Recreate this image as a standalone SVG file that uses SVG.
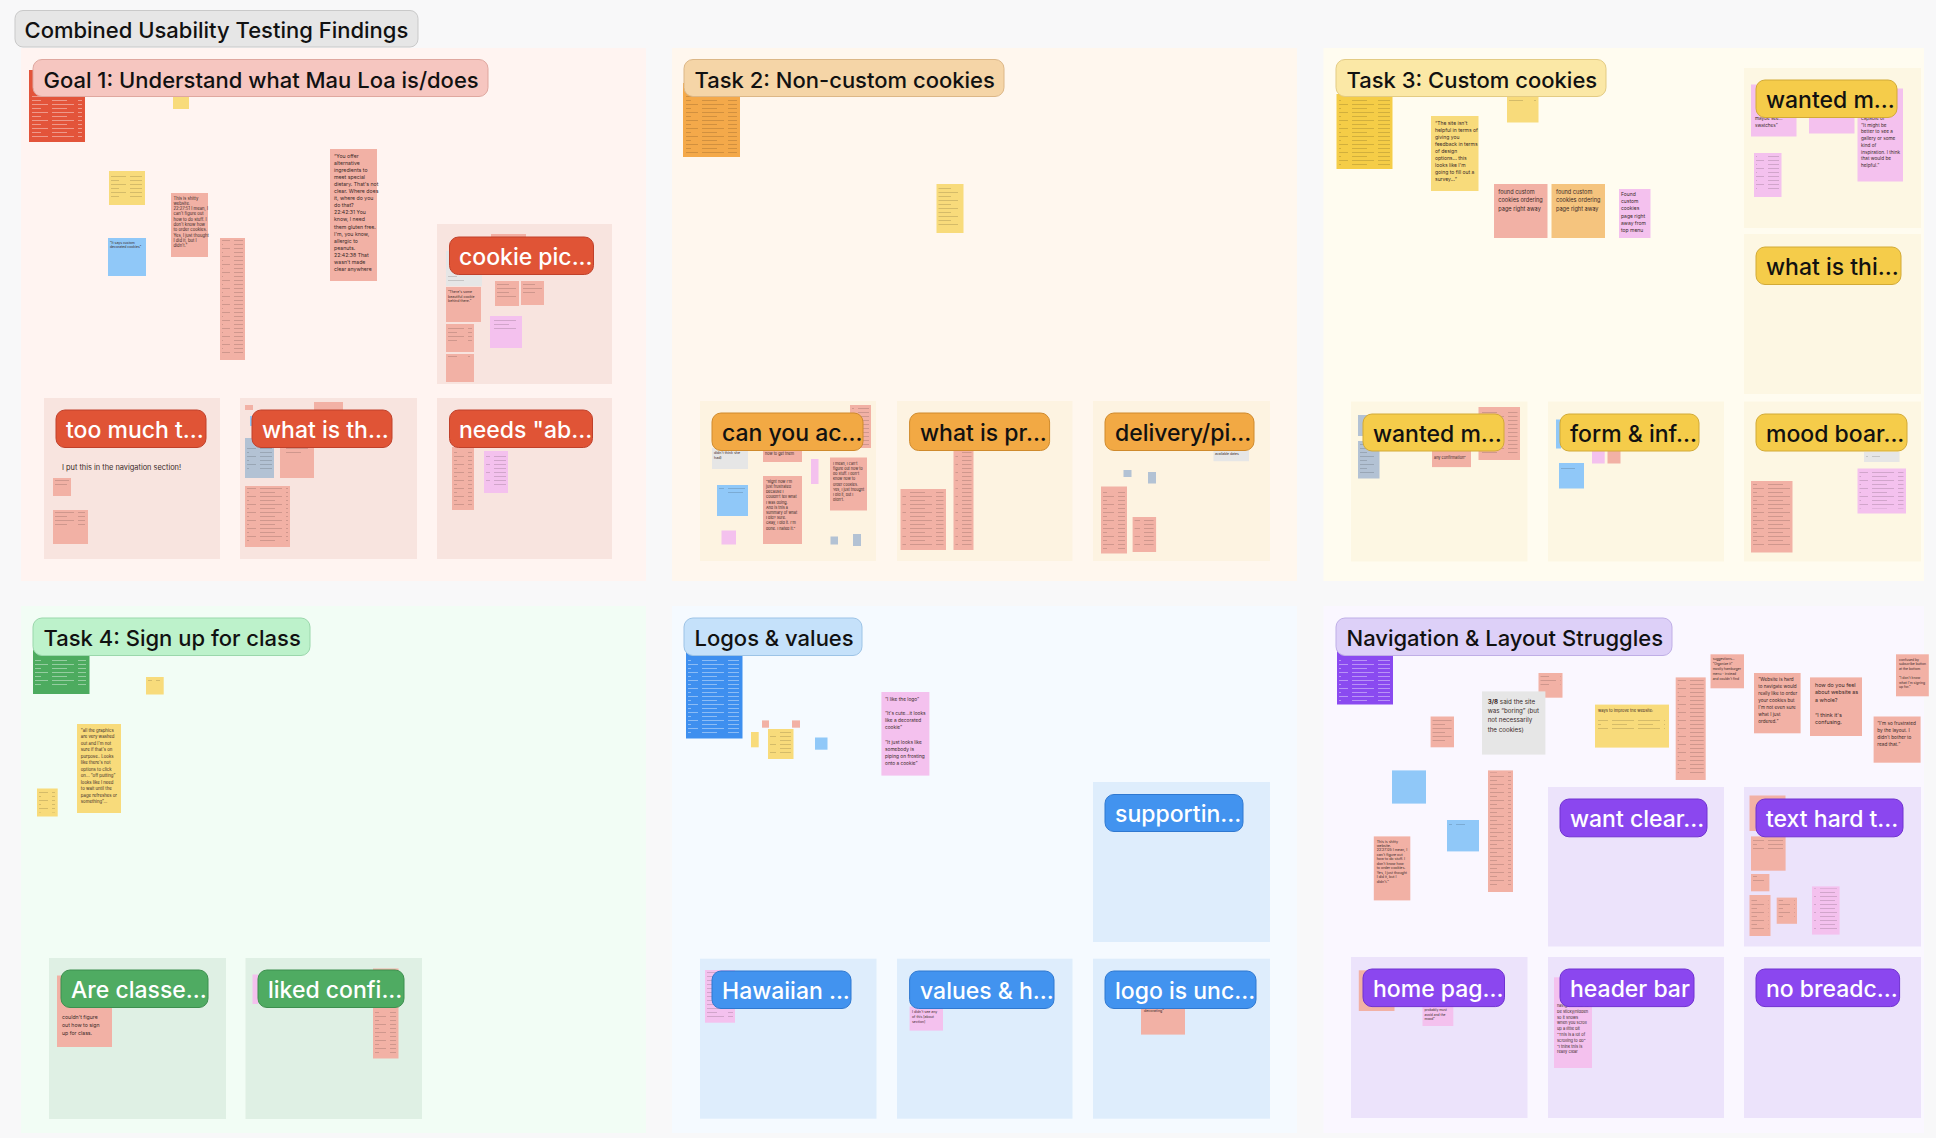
<svg xmlns="http://www.w3.org/2000/svg" width="1936" height="1138" viewBox="0 0 1936 1138">
<defs>
<pattern id="tl" width="26" height="8" patternUnits="userSpaceOnUse"><rect width="22" height="0.9" fill="#000" opacity="0.16"/><rect y="4" width="15" height="0.9" fill="#000" opacity="0.16"/></pattern>
<pattern id="tw" width="26" height="8" patternUnits="userSpaceOnUse"><rect width="22" height="0.9" fill="#fff" opacity="0.45"/><rect y="4" width="15" height="0.9" fill="#fff" opacity="0.45"/></pattern>
<style>
text{font-family:Inter,"Liberation Sans",sans-serif}
.hdr{font-size:22px;font-weight:500;fill:#111}
.pt{font-size:23px;font-weight:500}
.w{fill:#fff}.k{fill:#111}
.nt{fill:#3a2a28}
.s-goal{fill:#fff4f1}.s-t2{fill:#fff7ee}.s-t3{fill:#fffcf0}.s-t4{fill:#f2fdf5}.s-logo{fill:#f5faff}.s-nav{fill:#faf7ff}
.c-goal{fill:#f8e4df}.c-t2{fill:#fdf3e1}.c-t3{fill:#fdf7e3}.c-t4{fill:#dff0e4}.c-logo{fill:#deedfc}.c-nav{fill:#ece3fb}
.p-red{fill:#e05436;stroke:#c0402a}.p-or{fill:#f2a944;stroke:#cf8a2c}.p-ye{fill:#f5cc4a;stroke:#d2aa36}.p-gr{fill:#4fab62;stroke:#3d8f4e}.p-bl{fill:#4293ef;stroke:#2f78d0}.p-pu{fill:#8b47ef;stroke:#7032d0}
.n-sa{fill:#f2b1a5}.n-pk{fill:#f4c1ee}.n-ye{fill:#f8db7b}.n-bl{fill:#90c8f8}.n-gy{fill:#e6e6e6}.n-gb{fill:#b3c2d4}.n-pe{fill:#f5c47e}
.b-red{fill:#e3543a}.b-or{fill:#f4a94a}.b-ye{fill:#f5cd47}.b-gr{fill:#4dab5f}.b-bl{fill:#3e8fef}.b-pu{fill:#8a4af0}
.tl{fill:url(#tl)}.tw{fill:url(#tw)}
</style>
</defs>
<rect x="0" y="0" width="1936" height="1138" fill="#f8f8f9"/>

<g id="title">
<rect x="15" y="10.5" width="403" height="36.5" rx="8" fill="#e6e6e6" stroke="#c9c9c9"/>
<text class="hdr" x="24.5" y="37.5">Combined Usability Testing Findings</text>
</g>

<!-- GOAL 1 -->
<g id="sec-goal1">
<rect class="s-goal" x="21" y="48" width="625" height="533"/>
<g id="g1-notes">
<rect class="b-red" x="29" y="70" width="56" height="72"/><rect class="tw" x="32" y="96" width="50" height="43"/>
<rect class="n-ye" x="173" y="90" width="16" height="19"/>
</g>
<g id="g1-header">
<rect x="33" y="59.5" width="455" height="37" rx="9" fill="#f6c6c0" stroke="#dfa79f"/>
<text class="hdr" x="43.5" y="87.5">Goal 1: Understand what Mau Loa is/does</text>
</g>
<g id="g1-loose">
<rect class="n-ye" x="109" y="171" width="36" height="34"/><rect class="tl" x="111" y="173" width="31" height="27"/>
<rect class="n-bl" x="108" y="238" width="38" height="38"/>
<text class="nt" font-size="3.4" x="110" y="244">"It says custom</text><text class="nt" font-size="3.4" x="110" y="248">decorated cookies"</text>
<rect class="n-sa" x="171" y="193" width="37" height="64"/>
<text class="nt" font-size="4.2"><tspan x="173.5" y="199.5">This is shitty</tspan><tspan x="173.5" dy="5.3">website.</tspan><tspan x="173.5" dy="5.3">22:27:51 I mean, I</tspan><tspan x="173.5" dy="5.3">can't figure out</tspan><tspan x="173.5" dy="5.3">how to do stuff. I</tspan><tspan x="173.5" dy="5.3">don't know how</tspan><tspan x="173.5" dy="5.3">to order cookies.</tspan><tspan x="173.5" dy="5.3">Yes, I just thought</tspan><tspan x="173.5" dy="5.3">I did it, but I</tspan><tspan x="173.5" dy="5.3">didn't."</tspan></text>
<rect class="n-sa" x="220" y="238" width="25" height="122"/><rect class="tl" x="222" y="240" width="21" height="115"/>
<rect class="n-sa" x="330" y="149" width="47" height="132"/>
<text class="nt" font-size="5.2"><tspan x="334" y="157.5">“You offer</tspan><tspan x="334" dy="7.1">alternative</tspan><tspan x="334" dy="7.1">ingredients to</tspan><tspan x="334" dy="7.1">meet special</tspan><tspan x="334" dy="7.1">dietary. That's not</tspan><tspan x="334" dy="7.1">clear. Where does</tspan><tspan x="334" dy="7.1">it, where do you</tspan><tspan x="334" dy="7.1">do that?</tspan><tspan x="334" dy="7.1">22:42:31 You</tspan><tspan x="334" dy="7.1">know, I need</tspan><tspan x="334" dy="7.1">them gluten free.</tspan><tspan x="334" dy="7.1">I'm, you know,</tspan><tspan x="334" dy="7.1">allergic to</tspan><tspan x="334" dy="7.1">peanuts.</tspan><tspan x="334" dy="7.1">22:42:38 That</tspan><tspan x="334" dy="7.1">wasn't made</tspan><tspan x="334" dy="7.1">clear anywhere</tspan></text>
</g>
<g id="g1-cookie-pic">
<rect class="c-goal" x="437" y="224" width="175" height="160"/>
<rect class="n-sa" x="491" y="234" width="35" height="8"/>
<rect class="n-gy" x="446" y="251" width="36" height="35"/><rect class="tl" x="448" y="276" width="20" height="6"/>
<rect class="n-sa" x="446" y="287" width="35" height="35"/>
<text class="nt" font-size="3.5"><tspan x="448" y="293">“There's some</tspan><tspan x="448" dy="4.5">beautiful cookie</tspan><tspan x="448" dy="4.5">behind there.”</tspan></text>
<rect class="n-sa" x="495" y="281" width="24" height="25"/><rect class="tl" x="497" y="283" width="20" height="14"/>
<rect class="n-sa" x="521" y="281" width="23" height="24"/><rect class="tl" x="523" y="283" width="19" height="10"/>
<rect class="n-pk" x="490" y="316" width="32" height="32"/><rect class="tl" x="492" y="318" width="27" height="12"/>
<rect class="n-sa" x="446" y="324" width="28" height="28"/><rect class="tl" x="448" y="326" width="24" height="16"/>
<rect class="n-sa" x="446" y="354" width="28" height="28"/><rect class="tl" x="448" y="356" width="22" height="3"/>
<rect class="p-red" x="449.5" y="237" width="144" height="37.5" rx="9"/>
<text class="pt w" x="459" y="265">cookie pic...</text>
</g>
<g id="g1-too-much">
<rect class="c-goal" x="44" y="398" width="176" height="161"/>
<rect class="p-red" x="56" y="410" width="150" height="37.5" rx="9"/>
<text class="pt w" x="66" y="438">too much t...</text>
<text class="nt" font-size="7.4" x="62" y="470">I put this in the navigation section!</text>
<rect class="n-sa" x="53" y="478" width="18" height="18"/><rect class="tl" x="55" y="480" width="14" height="8"/>
<rect class="n-sa" x="53" y="510" width="35" height="34"/><rect class="tl" x="55" y="512" width="30" height="14"/>
</g>
<g id="g1-what-is">
<rect class="c-goal" x="240" y="398" width="177" height="161"/>
<rect class="n-sa" x="245" y="405" width="8" height="5"/>
<rect class="n-sa" x="314" y="402" width="29" height="10"/>
<rect class="n-bl" x="250" y="416" width="6" height="10"/>
<rect class="n-gb" x="245" y="438" width="29" height="40"/><rect class="tl" x="247" y="448" width="25" height="24"/>
<rect class="n-sa" x="280" y="438" width="34" height="40"/><rect class="tl" x="282" y="448" width="30" height="8"/>
<rect class="n-sa" x="245" y="486" width="45" height="61"/><rect class="tl" x="247" y="488" width="41" height="54"/>
<rect class="p-red" x="252" y="410" width="140" height="37.5" rx="9"/>
<text class="pt w" x="262" y="438">what is th...</text>
</g>
<g id="g1-needs-about">
<rect class="c-goal" x="437" y="398" width="175" height="161"/>
<rect class="n-sa" x="452" y="447" width="22" height="63"/><rect class="tl" x="454" y="449" width="18" height="56"/>
<rect class="n-pk" x="484" y="451" width="24" height="42"/><rect class="tl" x="486" y="453" width="20" height="34"/>
<rect class="p-red" x="449.5" y="410" width="143" height="37.5" rx="9"/>
<text class="pt w" x="459" y="438">needs "ab...</text>
</g>
</g>

<!-- TASK 2 -->
<g id="sec-task2">
<rect class="s-t2" x="672" y="48" width="625" height="533"/>
<rect class="b-or" x="683" y="83" width="57" height="74"/><rect class="tl" x="686" y="96" width="51" height="58"/>
<g id="t2-header">
<rect x="684" y="59.5" width="320" height="37" rx="9" fill="#f5d5a7" stroke="#dcb787"/>
<text class="hdr" x="694.5" y="87.5">Task 2: Non-custom cookies</text>
</g>
<rect class="n-ye" x="936.5" y="184" width="27" height="49"/><rect class="tl" x="938.5" y="186" width="23" height="42"/>
<g id="t2-can-you">
<rect class="c-t2" x="700" y="401" width="176" height="160"/>
<rect class="n-sa" x="850" y="405" width="21" height="43"/><rect class="tl" x="852" y="407" width="17" height="38"/>
<rect class="n-gy" x="712" y="448" width="36" height="21"/>
<text class="nt" font-size="3.6"><tspan x="714" y="454">didn't think she</tspan><tspan x="714" dy="4.5">had)</tspan></text>
<rect class="n-sa" x="763" y="448" width="39" height="14"/>
<text class="nt" font-size="3.8" x="765" y="455">how to get them</text>
<rect class="n-pk" x="811" y="459" width="7.5" height="25"/>
<rect class="n-sa" x="830" y="457.5" width="37" height="53"/>
<text class="nt" font-size="3.7"><tspan x="833" y="464.7">I mean, I can't</tspan><tspan x="833" dy="5.2">figure out how to</tspan><tspan x="833" dy="5.2">do stuff. I don't</tspan><tspan x="833" dy="5.2">know how to</tspan><tspan x="833" dy="5.2">order cookies.</tspan><tspan x="833" dy="5.2">Yes, I just thought</tspan><tspan x="833" dy="5.2">I did it, but I</tspan><tspan x="833" dy="5.2">didn't.</tspan></text>
<rect class="n-bl" x="717" y="485" width="31" height="31"/><rect class="tl" x="719" y="488" width="26" height="8"/>
<rect class="n-sa" x="763" y="476" width="39" height="68"/>
<text class="nt" font-size="3.8"><tspan x="766" y="482.7">“Right now I'm</tspan><tspan x="766" dy="5.2">just frustrated</tspan><tspan x="766" dy="5.2">because I</tspan><tspan x="766" dy="5.2">couldn't tell what</tspan><tspan x="766" dy="5.2">I was doing.</tspan><tspan x="766" dy="5.2">And is this a</tspan><tspan x="766" dy="5.2">summary of what</tspan><tspan x="766" dy="5.2">I did? Sure.</tspan><tspan x="766" dy="5.2">Okay, I did it. I'm</tspan><tspan x="766" dy="5.2">done. I hated it.”</tspan></text>
<rect class="n-pk" x="721.5" y="530.5" width="14.5" height="14"/>
<rect class="n-gb" x="830.5" y="536.5" width="7.5" height="8"/>
<rect class="n-gb" x="853" y="534" width="8" height="12"/>
<rect class="p-or" x="712" y="413" width="151" height="37.5" rx="9"/>
<text class="pt k" x="722" y="441">can you ac...</text>
</g>
<g id="t2-what-is-pr">
<rect class="c-t2" x="897" y="401" width="175.5" height="160"/>
<rect class="n-sa" x="900.5" y="489" width="45.5" height="61"/><rect class="tl" x="902.5" y="491" width="41" height="54"/>
<rect class="n-sa" x="953.5" y="448" width="20" height="102"/><rect class="tl" x="955.5" y="452" width="16" height="94"/>
<rect class="p-or" x="909.6" y="413" width="140" height="37.5" rx="9"/>
<text class="pt k" x="920" y="441">what is pr...</text>
</g>
<g id="t2-delivery">
<rect class="c-t2" x="1093" y="401" width="177" height="160"/>
<rect class="n-gy" x="1213.5" y="450.7" width="35.5" height="10.5"/>
<text class="nt" font-size="3.4" x="1215" y="454.5">available dates</text>
<rect class="n-gb" x="1123.5" y="470" width="8" height="7"/>
<rect class="n-gb" x="1148" y="472" width="8" height="11.5"/>
<rect class="n-sa" x="1101" y="486.5" width="26" height="67"/><rect class="tl" x="1103" y="489" width="22" height="60"/>
<rect class="n-sa" x="1132.6" y="517" width="23.5" height="35"/><rect class="tl" x="1134.6" y="520" width="19" height="26"/>
<rect class="p-or" x="1105" y="413" width="149" height="37.5" rx="9"/>
<text class="pt k" x="1115" y="441">delivery/pi...</text>
</g>
</g>

<!-- TASK 3 -->
<g id="sec-task3">
<rect class="s-t3" x="1323.5" y="48" width="600.5" height="533"/>
<rect class="b-ye" x="1336.5" y="94" width="56" height="75"/><rect class="tl" x="1339" y="97" width="51" height="68"/>
<rect class="n-ye" x="1507" y="93" width="31.5" height="29.5"/><rect class="tl" x="1509" y="97" width="27" height="5"/>
<g id="t3-header">
<rect x="1336" y="59.5" width="270" height="37" rx="9" fill="#fbe8a6" stroke="#e3cb83"/>
<text class="hdr" x="1346.5" y="87.5">Task 3: Custom cookies</text>
</g>
<g id="t3-loose">
<rect class="n-ye" x="1431" y="116" width="47.5" height="75"/>
<text class="nt" font-size="5"><tspan x="1435" y="124.5">“The site isn't</tspan><tspan x="1435" dy="7.1">helpful in terms of</tspan><tspan x="1435" dy="7.1">giving you</tspan><tspan x="1435" dy="7.1">feedback in terms</tspan><tspan x="1435" dy="7.1">of design</tspan><tspan x="1435" dy="7.1">options... this</tspan><tspan x="1435" dy="7.1">looks like I'm</tspan><tspan x="1435" dy="7.1">going to fill out a</tspan><tspan x="1435" dy="7.1">survey...”</tspan></text>
<rect class="n-sa" x="1494" y="184" width="53.5" height="54"/>
<text class="nt" font-size="5.6"><tspan x="1498.3" y="194">found custom</tspan><tspan x="1498.3" dy="8.3">cookies ordering</tspan><tspan x="1498.3" dy="8.3">page right away</tspan></text>
<rect class="n-pe" x="1551.5" y="184" width="53.5" height="54"/>
<text class="nt" font-size="5.6"><tspan x="1556" y="194">found custom</tspan><tspan x="1556" dy="8.3">cookies ordering</tspan><tspan x="1556" dy="8.3">page right away</tspan></text>
<rect class="n-pk" x="1619" y="189" width="31.5" height="49"/>
<text class="nt" font-size="5"><tspan x="1621" y="196">Found</tspan><tspan x="1621" dy="7.2">custom</tspan><tspan x="1621" dy="7.2">cookies</tspan><tspan x="1621" dy="7.2">page right</tspan><tspan x="1621" dy="7.2">away from</tspan><tspan x="1621" dy="7.2">top menu</tspan></text>
</g>
<g id="t3-wanted-top">
<rect class="c-t3" x="1744" y="68" width="177" height="160"/>
<rect class="n-pk" x="1751" y="84.5" width="45.5" height="52"/>
<text class="nt" font-size="4.6"><tspan x="1755" y="120">maybe see...</tspan><tspan x="1755" dy="7">swatches”</tspan></text>
<rect class="n-pk" x="1809" y="113" width="45.5" height="20.5"/>
<rect class="n-pk" x="1857.5" y="88.5" width="45.5" height="93"/>
<text class="nt" font-size="4.7"><tspan x="1861" y="120">capable of”</tspan><tspan x="1861" dy="6.7">“It might be</tspan><tspan x="1861" dy="6.7">better to see a</tspan><tspan x="1861" dy="6.7">gallery or some</tspan><tspan x="1861" dy="6.7">kind of</tspan><tspan x="1861" dy="6.7">inspiration. I think</tspan><tspan x="1861" dy="6.7">that would be</tspan><tspan x="1861" dy="6.7">helpful.”</tspan></text>
<rect class="n-pk" x="1754" y="153" width="27.5" height="44"/><rect class="tl" x="1756" y="155" width="23" height="36"/>
<rect class="p-ye" x="1756" y="80" width="141" height="37.5" rx="9"/>
<text class="pt k" x="1766" y="108">wanted m...</text>
</g>
<g id="t3-what-is-thi">
<rect class="c-t3" x="1744" y="234" width="177" height="160"/>
<rect class="p-ye" x="1756" y="247" width="145" height="37.5" rx="9"/>
<text class="pt k" x="1766" y="275">what is thi...</text>
</g>
<g id="t3-mood">
<rect class="c-t3" x="1744" y="401.5" width="177" height="160"/>
<rect class="n-gy" x="1864" y="452" width="35.5" height="10"/><rect class="tl" x="1866" y="454" width="14" height="3"/>
<rect class="n-pk" x="1857.5" y="468.5" width="48.5" height="45"/><rect class="tl" x="1859.5" y="470.5" width="44" height="38"/>
<rect class="n-sa" x="1751" y="481" width="41.5" height="71.5"/><rect class="tl" x="1753" y="483" width="37" height="64"/>
<rect class="p-ye" x="1756" y="414" width="151" height="37" rx="9"/>
<text class="pt k" x="1766" y="441.5">mood boar...</text>
</g>
<g id="t3-wanted-bottom">
<rect class="c-t3" x="1351" y="401.5" width="176.5" height="160"/>
<rect class="n-gb" x="1358" y="415" width="21.5" height="21"/>
<rect class="n-gb" x="1358" y="441" width="21.5" height="37.5"/><rect class="tl" x="1360" y="443" width="17" height="31"/>
<rect class="n-sa" x="1478.5" y="407" width="41.5" height="53"/><rect class="tl" x="1480.5" y="409" width="37" height="46"/>
<rect class="n-sa" x="1432" y="449.6" width="39" height="17.5"/>
<text class="nt" font-size="3.8" x="1434" y="458.5">any confirmation”</text>
<rect class="p-ye" x="1363" y="414" width="141" height="37" rx="9"/>
<text class="pt k" x="1373" y="441.5">wanted m...</text>
</g>
<g id="t3-form">
<rect class="c-t3" x="1548" y="401.5" width="176" height="160"/>
<rect class="n-bl" x="1556" y="419.5" width="5" height="29"/>
<rect class="n-pk" x="1592" y="450" width="12.7" height="13.5"/>
<rect class="n-sa" x="1607.5" y="450" width="13" height="13.5"/>
<rect class="n-bl" x="1559" y="463" width="25" height="25.5"/><rect class="tl" x="1561" y="465" width="20" height="6"/>
<rect class="p-ye" x="1560" y="414" width="139" height="37" rx="9"/>
<text class="pt k" x="1570" y="441.5">form &amp; inf...</text>
</g>
</g>

<!-- TASK 4 -->
<g id="sec-task4">
<rect class="s-t4" x="21" y="606" width="625" height="527"/>
<rect class="b-gr" x="33" y="650" width="56.5" height="44"/><rect class="tw" x="35" y="657" width="51" height="31"/>
<g id="t4-header">
<rect x="33" y="618" width="277" height="37.5" rx="9" fill="#bdf2cb" stroke="#9ad7ab"/>
<text class="hdr" x="43.5" y="646">Task 4: Sign up for class</text>
</g>
<g id="t4-loose">
<rect class="n-ye" x="146" y="677" width="17.7" height="17.5"/><rect class="tl" x="148" y="679" width="12" height="3"/>
<rect class="n-ye" x="77" y="724" width="44" height="89"/>
<text class="nt" font-size="4.3"><tspan x="80.8" y="731.6">“all the graphics</tspan><tspan x="80.8" dy="6.5">are very washed</tspan><tspan x="80.8" dy="6.5">out and I'm not</tspan><tspan x="80.8" dy="6.5">sure if that's on</tspan><tspan x="80.8" dy="6.5">purpose.. Looks</tspan><tspan x="80.8" dy="6.5">like there's not</tspan><tspan x="80.8" dy="6.5">options to click</tspan><tspan x="80.8" dy="6.5">on... “off putting”</tspan><tspan x="80.8" dy="6.5">looks like I need</tspan><tspan x="80.8" dy="6.5">to wait until the</tspan><tspan x="80.8" dy="6.5">page refreshes or</tspan><tspan x="80.8" dy="6.5">something”...</tspan></text>
<rect class="n-ye" x="37" y="788.5" width="20.7" height="28"/><rect class="tl" x="39" y="790.5" width="16" height="22"/>
</g>
<g id="t4-are-classes">
<rect class="c-t4" x="49" y="958" width="177" height="161"/>
<rect class="n-sa" x="57" y="975.5" width="55" height="71.5"/>
<text class="nt" font-size="5.2"><tspan x="62" y="1018.5">couldn't figure</tspan><tspan x="62" dy="8.4">out how to sign</tspan><tspan x="62" dy="8.4">up for class.</tspan></text>
<rect class="p-gr" x="61" y="970" width="147" height="37.5" rx="9"/>
<text class="pt w" x="71" y="998">Are classe...</text>
</g>
<g id="t4-liked">
<rect class="c-t4" x="245.5" y="958" width="176.5" height="161"/>
<rect class="n-pk" x="252.5" y="974.5" width="6" height="29.5"/>
<rect class="n-sa" x="373" y="968.5" width="25.5" height="90"/><rect class="tl" x="375" y="1009" width="21" height="45"/>
<rect class="p-gr" x="258" y="970" width="146" height="37.5" rx="9"/>
<text class="pt w" x="268" y="998">liked confi...</text>
</g>
</g>

<!-- LOGOS -->
<g id="sec-logos">
<rect class="s-logo" x="672" y="606" width="625" height="527"/>
<rect class="b-bl" x="686" y="650" width="56.5" height="88.5"/><rect class="tw" x="688" y="657" width="51" height="78"/>
<g id="lg-header">
<rect x="684" y="618" width="178" height="37.5" rx="9" fill="#c5e1fa" stroke="#9cc3e6"/>
<text class="hdr" x="694.5" y="646">Logos &amp; values</text>
</g>
<g id="lg-loose">
<rect class="n-sa" x="762" y="720.4" width="7" height="7.3"/>
<rect class="n-sa" x="792" y="720.4" width="8" height="7.3"/>
<rect class="n-ye" x="751" y="732" width="7.7" height="15.3"/>
<rect class="n-ye" x="768" y="729" width="25.5" height="30"/><rect class="tl" x="770" y="731" width="21" height="22"/>
<rect class="n-bl" x="815" y="737.5" width="12.5" height="12.2"/>
<rect class="n-pk" x="881.4" y="692" width="48" height="83.6"/>
<text class="nt" font-size="4.8"><tspan x="885" y="701">“I like the logo”</tspan><tspan x="885" y="715">“It's cute...it looks</tspan><tspan x="885" dy="7.2">like a decorated</tspan><tspan x="885" dy="7.2">cookie”</tspan><tspan x="885" y="743.7">“It just looks like</tspan><tspan x="885" dy="7.2">somebody is</tspan><tspan x="885" dy="7.2">piping on frosting</tspan><tspan x="885" dy="7.2">onto a cookie”</tspan></text>
</g>
<g id="lg-supporting">
<rect class="c-logo" x="1093" y="782" width="177" height="160"/>
<rect class="p-bl" x="1105" y="794.5" width="138" height="37" rx="9"/>
<text class="pt w" x="1115" y="822">supportin...</text>
</g>
<g id="lg-hawaiian">
<rect class="c-logo" x="700" y="958.7" width="176.5" height="160"/>
<rect class="n-pk" x="705" y="970" width="30" height="52.7"/><rect class="tl" x="707" y="972" width="26" height="45"/>
<rect class="p-bl" x="712" y="971" width="139" height="37.5" rx="9"/>
<text class="pt w" x="722" y="999">Hawaiian ...</text>
</g>
<g id="lg-values">
<rect class="c-logo" x="897" y="958.7" width="175.5" height="160"/>
<rect class="n-pk" x="909.6" y="1006.6" width="33.4" height="24"/>
<text class="nt" font-size="3.5"><tspan x="912" y="1013">I didn't see any</tspan><tspan x="912" dy="4.8">of this [about</tspan><tspan x="912" dy="4.8">section]</tspan></text>
<rect class="p-bl" x="909.6" y="971" width="144.4" height="37.5" rx="9"/>
<text class="pt w" x="920" y="999">values &amp; h...</text>
</g>
<g id="lg-logo-unclear">
<rect class="c-logo" x="1093" y="958.7" width="177" height="160"/>
<rect class="n-sa" x="1141" y="1006.6" width="44" height="28"/>
<text class="nt" font-size="3.6" x="1144" y="1012">decorating”</text>
<rect class="p-bl" x="1105" y="971" width="151" height="37.5" rx="9"/>
<text class="pt w" x="1115" y="999">logo is unc...</text>
</g>
</g>

<!-- NAVIGATION -->
<g id="sec-nav">
<rect class="s-nav" x="1323.5" y="606" width="600.5" height="527"/>
<rect class="b-pu" x="1337" y="650" width="56" height="54.5"/><rect class="tw" x="1339" y="657" width="51" height="44"/>
<g id="nav-header">
<rect x="1336" y="618" width="336" height="37.5" rx="9" fill="#ddd0f8" stroke="#bfaee6"/>
<text class="hdr" x="1346.5" y="646">Navigation &amp; Layout Struggles</text>
</g>
<g id="nav-loose">
<rect class="n-sa" x="1538.5" y="673" width="24" height="24.7"/><rect class="tl" x="1540.5" y="675" width="20" height="12"/>
<rect class="n-gy" x="1482" y="691.4" width="63.4" height="63.2"/>
<text class="nt" font-size="6.2"><tspan x="1487.7" y="703.5"><tspan font-weight="700">3/8</tspan> said the site</tspan><tspan x="1487.7" dy="9.4">was “boring” (but</tspan><tspan x="1487.7" dy="9.4">not necessarily</tspan><tspan x="1487.7" dy="9.4">the cookies)</tspan></text>
<rect class="n-sa" x="1430.6" y="716.5" width="23.4" height="30.8"/><rect class="tl" x="1432.6" y="718.5" width="19" height="24"/>
<rect class="n-ye" x="1595" y="704.6" width="74" height="43"/>
<text class="nt" font-size="4" x="1598" y="711.5">ways to improve the website:</text>
<rect class="tl" x="1598" y="718" width="67" height="14"/>
<rect class="n-sa" x="1710.5" y="654.3" width="33.5" height="34"/>
<text class="nt" font-size="3.3"><tspan x="1712.7" y="660">suggestions...</tspan><tspan x="1712.7" dy="5">“Organize it”</tspan><tspan x="1712.7" dy="5">mostly hamburger</tspan><tspan x="1712.7" dy="5">menu - instead</tspan><tspan x="1712.7" dy="5">and couldn't find</tspan></text>
<rect class="n-sa" x="1675.7" y="677.4" width="30" height="102.6"/><rect class="tl" x="1677.7" y="679.4" width="26" height="96"/>
<rect class="n-sa" x="1754" y="673" width="46.6" height="60.3"/>
<text class="nt" font-size="4.6"><tspan x="1758.3" y="681">“Website is hard</tspan><tspan x="1758.3" dy="7">to navigate would</tspan><tspan x="1758.3" dy="7">really like to order</tspan><tspan x="1758.3" dy="7">your cookies but</tspan><tspan x="1758.3" dy="7">I'm not even sure</tspan><tspan x="1758.3" dy="7">what I just</tspan><tspan x="1758.3" dy="7">ordered.”</tspan></text>
<rect class="n-sa" x="1810" y="677.4" width="52" height="58.6"/>
<text class="nt" font-size="5.4"><tspan x="1815" y="686.5">how do you feel</tspan><tspan x="1815" dy="7.6">about website as</tspan><tspan x="1815" dy="7.6">a whole?</tspan><tspan x="1815" y="716.5">“I think it's</tspan><tspan x="1815" dy="7.8">confusing.</tspan></text>
<rect class="n-sa" x="1896" y="654.3" width="32.8" height="42"/>
<text class="nt" font-size="3.4"><tspan x="1899" y="660.5">confused by</tspan><tspan x="1899" dy="4.7">subscribe button</tspan><tspan x="1899" dy="4.7">at the bottom</tspan><tspan x="1899" y="679">“I don't know</tspan><tspan x="1899" dy="4.7">what I'm signing</tspan><tspan x="1899" dy="4.7">up for.”</tspan></text>
<rect class="n-sa" x="1873.6" y="716.5" width="47" height="46.2"/>
<text class="nt" font-size="4.7"><tspan x="1877.3" y="724.5">“I'm so frustrated</tspan><tspan x="1877.3" dy="7">by the layout. I</tspan><tspan x="1877.3" dy="7">didn't bother to</tspan><tspan x="1877.3" dy="7">read that.”</tspan></text>
<rect class="n-bl" x="1392" y="770.4" width="34" height="33.2"/><rect class="tl" x="1394" y="773" width="20" height="3"/>
<rect class="n-bl" x="1447" y="820" width="32" height="31.4"/><rect class="tl" x="1449" y="822.5" width="16" height="3"/>
<rect class="n-sa" x="1488" y="770.4" width="25" height="121.6"/><rect class="tl" x="1490" y="772.4" width="21" height="115"/>
<rect class="n-sa" x="1373.8" y="836.4" width="36.5" height="64"/>
<text class="nt" font-size="3.6"><tspan x="1376.7" y="842.5">This is shitty</tspan><tspan x="1376.7" dy="4.45">website.</tspan><tspan x="1376.7" dy="4.45">22:27:05 I mean, I</tspan><tspan x="1376.7" dy="4.45">can't figure out</tspan><tspan x="1376.7" dy="4.45">how to do stuff. I</tspan><tspan x="1376.7" dy="4.45">don't know how</tspan><tspan x="1376.7" dy="4.45">to order cookies.</tspan><tspan x="1376.7" dy="4.45">Yes, I just thought</tspan><tspan x="1376.7" dy="4.45">I did it, but I</tspan><tspan x="1376.7" dy="4.45">didn't.”</tspan></text>
</g>
<g id="nav-want-clear">
<rect class="c-nav" x="1548" y="787" width="176" height="159.5"/>
<rect class="p-pu" x="1560" y="799" width="147" height="37.8" rx="9"/>
<text class="pt w" x="1570" y="827">want clear...</text>
</g>
<g id="nav-text-hard">
<rect class="c-nav" x="1744" y="787" width="177" height="159.5"/>
<rect class="n-sa" x="1749.5" y="795.5" width="36" height="35.5"/>
<rect class="n-sa" x="1751" y="836.4" width="34.6" height="34.3"/><rect class="tl" x="1753" y="838.4" width="30" height="12"/>
<rect class="n-sa" x="1751" y="874" width="18.4" height="17.3"/><rect class="tl" x="1753" y="876" width="14" height="8"/>
<rect class="n-sa" x="1749.5" y="895" width="21" height="41"/><rect class="tl" x="1751.5" y="897" width="17" height="34"/>
<rect class="n-sa" x="1776.7" y="897.6" width="20.3" height="26.2"/><rect class="tl" x="1778.7" y="899.6" width="16" height="20"/>
<rect class="n-pk" x="1812" y="886.4" width="27.6" height="48.2"/><rect class="tl" x="1814" y="888.4" width="23" height="41"/>
<rect class="p-pu" x="1756" y="799" width="147" height="37.8" rx="9"/>
<text class="pt w" x="1766" y="827">text hard t...</text>
</g>
<g id="nav-home-page">
<rect class="c-nav" x="1351" y="957" width="176.5" height="161"/>
<rect class="n-sa" x="1358.8" y="970.3" width="35.7" height="40.7"/>
<rect class="n-pk" x="1422.5" y="1006" width="30.8" height="20"/>
<text class="nt" font-size="3.3"><tspan x="1424.5" y="1011">probably must</tspan><tspan x="1424.5" dy="4.5">avoid and the</tspan><tspan x="1424.5" dy="4.5">mood”</tspan></text>
<rect class="p-pu" x="1363" y="969" width="141.5" height="37.6" rx="9"/>
<text class="pt w" x="1373" y="997">home pag...</text>
</g>
<g id="nav-header-bar">
<rect class="c-nav" x="1548" y="957" width="176" height="161"/>
<rect class="n-pk" x="1554" y="977.3" width="38" height="90.7"/>
<text class="nt" font-size="4"><tspan x="1557" y="1007">navigation bar to</tspan><tspan x="1557" dy="5.8">be sticky/hidden</tspan><tspan x="1557" dy="5.8">so it shows</tspan><tspan x="1557" dy="5.8">when you scroll</tspan><tspan x="1557" dy="5.8">up a little bit</tspan><tspan x="1557" dy="5.8">“This is a lot of</tspan><tspan x="1557" dy="5.8">scrolling to do”</tspan><tspan x="1557" dy="5.8">“I think this is</tspan><tspan x="1557" dy="5.8">really clear</tspan></text>
<rect class="p-pu" x="1560" y="969" width="134" height="37.6" rx="9"/>
<text class="pt w" x="1570" y="997">header bar</text>
</g>
<g id="nav-no-breadcrumbs">
<rect class="c-nav" x="1744" y="957" width="177" height="161"/>
<rect class="p-pu" x="1756" y="969" width="143.6" height="37.6" rx="9"/>
<text class="pt w" x="1766" y="997">no breadc...</text>
</g>
</g>

<g id="connectors"/>
</svg>
